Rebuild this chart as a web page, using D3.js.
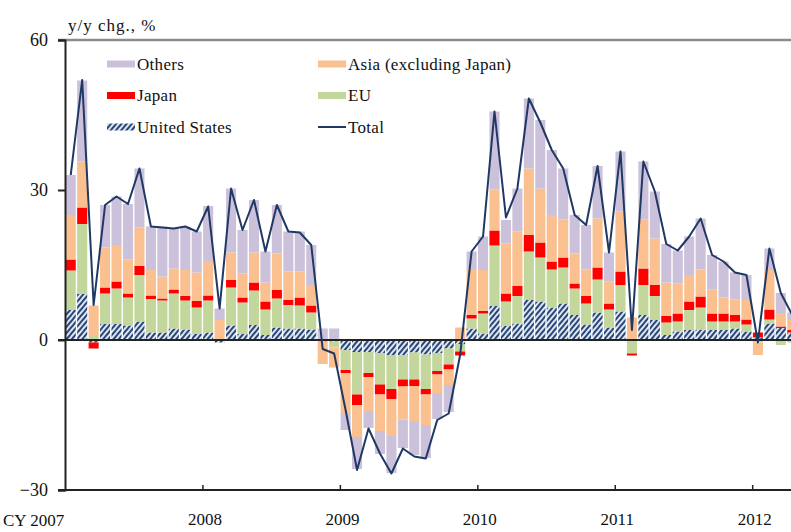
<!DOCTYPE html>
<html>
<head>
<meta charset="utf-8">
<script src="https://cdn.jsdelivr.net/npm/d3@7"></script>
<style>
  body { margin: 0; background: #fff; }
  svg text { font-family: "Liberation Serif", "Times New Roman", serif; fill: #111; }
</style>
</head>
<body>
<svg id="chart"></svg>
<script>
const WIDTH = 791
const HEIGHT = 532
const LEFT = 65
const RIGHT = 798
const TOP = 40
const BOTTOM = 490
const FONT = 17

// categories
const years = [2007, 2008, 2009, 2010, 2011, 2012]
const lastMonth2012 = 4
const yTicks = [-30, 0, 30, 60]

// series values, y/y chg. %, Jan 2007 - Apr 2012
const unitedStates = [6, 9.2, -0.5, 3.2, 3.2, 2.9, 3.7, 1.5, 1.5, 2.3, 2.1, 1.2,
  1.5, -0.5, 2.9, 1.2, 3, 1, 2.5, 2.3, 2.3, 2.1, -0.3, -0.3,
  -2, -2.4, -2.4, -2.6, -3, -3, -2.5, -2.9, -2.6, -1.7, -0.8, 2.3,
  1.3, 6.8, 2.8, 3.3, 8, 7.7, 6.5, 7.3, 5, 3.1, 5.5, 2.5,
  5.7, 0, 5, 4, 1, 1.7, 2, 2.1, 2, 2, 2.3, 1.7,
  0.5, 3.3, 2.4, 1.5]
const eu = [7.9, 14, 1, 6.1, 7.1, 5.6, 9.3, 6.7, 6.4, 7, 5.8, 5.3,
  6.4, 0, 7.6, 6.3, 6.9, 5.1, 5.8, 4.7, 4.6, 3.4, 0, -1.2,
  -4, -8.5, -4.2, -6.3, -6.8, -4.9, -5.4, -6.9, -3.6, -3.2, -1.5, 2,
  4, 12.1, 4.9, 5.5, 9.7, 8.8, 7.6, 7.2, 5.3, 4.2, 6.6, 3.6,
  5.3, -2.7, 6, 4.8, 2.5, 2, 4, 4.4, 1.7, 1.7, 1.4, 1.4,
  -0.5, 0.8, -1, -0.5]
const japan = [2.2, 3.3, -1.2, 1.2, 1.4, 0.8, 1.8, 0.7, 0.4, 0.8, 0.9, 1.3,
  1, 0, 1.5, 1, 1.6, 1.6, 1.7, 1, 1.6, 1.4, 0, 0,
  -0.6, -2.1, -0.8, -2, -2, -1.4, -1.3, -1.1, -0.7, -1, -0.8, 0.7,
  0.5, 3, 1.6, 2, 3.3, 3, 1.6, 2, 1, 1.5, 2.4, 1.2,
  2.7, -0.4, 3.3, 2.2, 1.3, 1.6, 1.7, 2.2, 1.6, 1.6, 1.3, 1,
  1, 2, 0.3, 0.5]
const asia = [8.9, 9.2, 5.9, 8, 7.3, 6.8, 7.7, 5.1, 4.4, 4.2, 5.2, 5.7,
  6.9, 4, 5.5, 4.8, 6, 3.8, 7.3, 5.7, 5.2, 4.1, -4.5, -4,
  -8, -6.4, -6.8, -7.3, -7.4, -6.6, -7, -6.1, -3.7, -3.1, 2.5, 9,
  8.2, 8.2, 10, 10.9, 13.3, 10.8, 9.3, 7.6, 6, 5.3, 9.8, 4.4,
  12, 4.5, 9.8, 9.3, 6.7, 6, 5.3, 5.4, 4.8, 3.2, 3.1, 3.9,
  -2.5, 7.9, 2.7, 2]
const others = [8, 16.2, 0, 8.5, 9.7, 11.1, 11.8, 8.7, 10, 8, 8.7, 8.2,
  11, 2.3, 12.8, 8.7, 10.5, 6.2, 9.7, 8, 8, 8, 2.3, 2.3,
  -3.4, -6.4, -3.4, -4.6, -7.4, -5.7, -6.8, -6.6, -5.2, -5.4, 0, 3.7,
  6.7, 15.6, 4.7, 8.6, 14, 13.7, 13, 10.2, 7.7, 8.9, 10.5, 5.8,
  12, 0, 11.6, 9.4, 7.7, 6.6, 7.7, 10.2, 6.9, 7.2, 5.4, 5,
  0, 4.3, 4, 1.5]
const total = [33, 52, 7, 27, 28.7, 27.2, 34.3, 22.7, 22.5, 22.3, 22.7, 21.7,
  26.7, 6.3, 30.3, 22, 28, 17.7, 27, 21.7, 21.5, 19, -1.8, -2.7,
  -14, -26, -17.7, -22.7, -26.7, -21.7, -23.3, -23.7, -16, -14.7, -3, 17.7,
  20.7, 45.7, 24.5, 30.3, 48.3, 43.5, 38, 34.3, 25, 23, 34.8, 17.5,
  37.7, 2, 35.7, 29.7, 19.2, 17.9, 20.7, 24.3, 17, 15.7, 13.5, 13,
  -0.5, 18.3, 9.4, 5]

const months = []
years.forEach(yr => {
  const n = yr === 2012 ? lastMonth2012 : 12
  for (let m = 1; m <= n; m++) months.push(`${yr}-${String(m).padStart(2, '0')}`)
})

const keys = ['us', 'eu', 'japan', 'asia', 'others']
const colors = {
  us: 'url(#hatch)',
  eu: '#c3d69b',
  japan: '#ff0000',
  asia: '#fac090',
  others: '#ccc1da'
}

const rows = months.map((m, i) => ({
  month: m,
  us: unitedStates[i],
  eu: eu[i],
  japan: japan[i],
  asia: asia[i],
  others: others[i],
  total: total[i]
}))

const svg = d3.select('#chart')
  .attr('width', WIDTH)
  .attr('height', HEIGHT)

const defs = svg.append('defs')
const hatch = defs.append('pattern')
  .attr('id', 'hatch')
  .attr('width', 4)
  .attr('height', 4)
  .attr('patternUnits', 'userSpaceOnUse')
  .attr('patternTransform', 'rotate(40)')
hatch.append('rect').attr('width', 4).attr('height', 4).attr('fill', '#dde5f0')
hatch.append('rect').attr('width', 2).attr('height', 4).attr('fill', '#284677')

const x = d3.scaleBand()
  .domain(months)
  .range([LEFT, RIGHT])
  .paddingInner(0.12)
  .paddingOuter(0.06)

const y = d3.scaleLinear()
  .domain([-30, 60])
  .range([BOTTOM, TOP])

const series = d3.stack()
  .keys(keys)
  .offset(d3.stackOffsetDiverging)(rows)

// bars
svg.append('g')
  .selectAll('g')
  .data(series)
  .join('g')
  .attr('fill', d => colors[d.key])
  .selectAll('rect')
  .data(d => d)
  .join('rect')
  .attr('x', d => x(d.data.month))
  .attr('width', x.bandwidth())
  .attr('y', d => y(Math.max(d[0], d[1])))
  .attr('height', d => Math.abs(y(d[0]) - y(d[1])))

// top frame line and zero line
svg.append('line')
  .attr('x1', LEFT - 7).attr('x2', WIDTH)
  .attr('y1', y(60)).attr('y2', y(60))
  .attr('stroke', '#8c8c8c').attr('stroke-width', 2.5)

svg.append('line')
  .attr('x1', LEFT - 7).attr('x2', WIDTH)
  .attr('y1', y(0)).attr('y2', y(0))
  .attr('stroke', '#222').attr('stroke-width', 2)

// total line
const line = d3.line()
  .x(d => x(d.month) + x.bandwidth() / 2)
  .y(d => y(d.total))

svg.append('path')
  .datum(rows)
  .attr('fill', 'none')
  .attr('stroke', '#1f3864')
  .attr('stroke-width', 2)
  .attr('stroke-linejoin', 'round')
  .attr('d', line)

// y axis
const yAxis = svg.append('g')
  .attr('transform', `translate(${LEFT}, 0)`)
  .call(d3.axisLeft(y).tickValues(yTicks).tickSize(7).tickPadding(10).tickFormat(d3.format('d')))
yAxis.select('.domain').attr('stroke', '#222').attr('stroke-width', 2)
yAxis.selectAll('.tick line').attr('stroke', '#222').attr('stroke-width', 2)
yAxis.selectAll('.tick text').attr('font-size', FONT + 1).attr('fill', '#111')

// x axis, ticks between years
const xm = d3.scaleLinear()
  .domain([0, months.length])
  .range([LEFT, RIGHT])
const yearStarts = years.slice(1).map(yr => months.indexOf(`${yr}-01`))

const xAxis = svg.append('g')
  .attr('transform', `translate(0, ${BOTTOM})`)
  .call(d3.axisBottom(xm)
    .tickValues(yearStarts)
    .tickSize(-5)
    .tickPadding(23)
    .tickFormat(i => months[i].slice(0, 4)))
xAxis.select('.domain').remove()
xAxis.append('line')
  .attr('x1', LEFT - 7).attr('x2', WIDTH)
  .attr('stroke', '#222').attr('stroke-width', 2)
xAxis.selectAll('.tick line').attr('stroke', '#222').attr('stroke-width', 1.5)
xAxis.selectAll('.tick text').attr('font-size', FONT).attr('fill', '#111')
  .attr('dx', 2)

svg.append('text')
  .attr('x', 3)
  .attr('y', 526)
  .attr('font-size', FONT)
  .text(`CY ${years[0]}`)

svg.append('text')
  .attr('x', 68)
  .attr('y', 31)
  .attr('font-size', FONT)
  .attr('letter-spacing', 1)
  .text('y/y chg., %')

// legend
const legendItems = [
  { key: 'others', label: 'Others', col: 0, row: 0 },
  { key: 'asia', label: 'Asia (excluding Japan)', col: 1, row: 0 },
  { key: 'japan', label: 'Japan', col: 0, row: 1 },
  { key: 'eu', label: 'EU', col: 1, row: 1 },
  { key: 'us', label: 'United States', col: 0, row: 2 },
  { key: 'total', label: 'Total', col: 1, row: 2 }
]

const legend = svg.append('g')
  .selectAll('g')
  .data(legendItems)
  .join('g')
  .attr('transform', d => `translate(${d.col ? 318 : 107}, ${64 + d.row * 31.5})`)

legend.filter(d => d.key !== 'total')
  .append('rect')
  .attr('y', -3.5)
  .attr('width', 28)
  .attr('height', 7)
  .attr('fill', d => colors[d.key])

legend.filter(d => d.key === 'total')
  .append('line')
  .attr('x2', 28)
  .attr('stroke', '#1f3864')
  .attr('stroke-width', 2)

legend.append('text')
  .attr('x', 30)
  .attr('y', 5.5)
  .attr('font-size', FONT)
  .attr('letter-spacing', 0.3)
  .text(d => d.label)
</script>
</body>
</html>
